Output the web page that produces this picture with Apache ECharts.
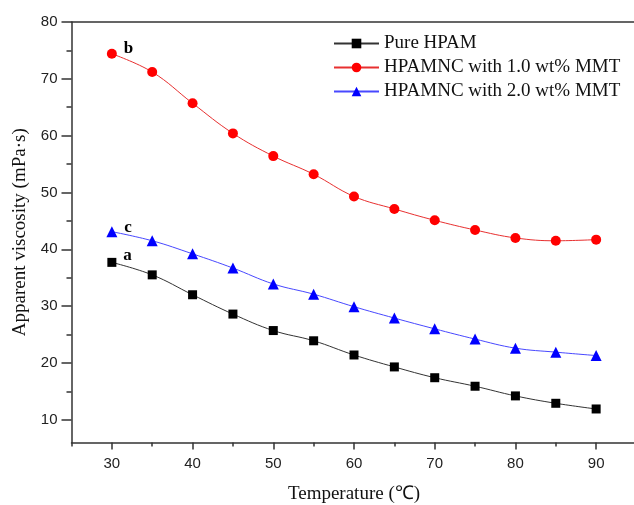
<!DOCTYPE html>
<html>
<head>
<meta charset="utf-8">
<script src="https://cdn.jsdelivr.net/npm/echarts@6/dist/echarts.min.js"></script>
<style>html,body{margin:0;padding:0;background:#fff;}#c{width:634px;height:505px;}</style>
</head>
<body>
<div id="c"></div>
<script>
const temperatures = [30, 35, 40, 45, 50, 55, 60, 65, 70, 75, 80, 85, 90];
const pureHPAM = [37.7, 35.5, 32.0, 28.6, 25.7, 23.9, 21.4, 19.3, 17.4, 15.9, 14.2, 12.9, 11.9];
const mmt10 = [74.4, 71.2, 65.7, 60.4, 56.4, 53.2, 49.3, 47.1, 45.1, 43.4, 42.0, 41.5, 41.7];
const mmt20 = [43.1, 41.5, 39.2, 36.7, 33.9, 32.1, 29.9, 27.9, 26.0, 24.2, 22.6, 21.9, 21.3];
const seriesNames = ['Pure HPAM', 'HPAMNC with 1.0 wt% MMT', 'HPAMNC with 2.0 wt% MMT'];
const curveLabels = ['a', 'b', 'c'];
const xMajor = [30, 40, 50, 60, 70, 80, 90];
const xMinor = [25, 35, 45, 55, 65, 75, 85, 95];
const yMajor = [10, 20, 30, 40, 50, 60, 70, 80];
const yMinor = [15, 25, 35, 45, 55, 65, 75];

const axisColor = '#333';
const serif = '"Liberation Serif","Times New Roman",serif';
const sans = '"Liberation Sans",Arial,sans-serif';

function build(values, label, offset) {
  return values.map((v, i) => {
    const item = { value: [temperatures[i], v] };
    if (i === 0) {
      item.label = {
        show: true, formatter: label, position: 'right', offset: offset,
        fontFamily: serif, fontWeight: 'bold', fontSize: 17, color: '#000'
      };
    }
    return item;
  });
}

const chart = echarts.init(document.getElementById('c'), null, { renderer: 'canvas' });
chart.setOption({
  animation: false,
  backgroundColor: '#fff',
  grid: { left: 71.5, top: 22, width: 565, height: 420.5, containLabel: false, outerBoundsMode: 'none' },
  legend: {
    left: 333, top: 34, orient: 'vertical', padding: 0,
    itemWidth: 45, itemHeight: 12, itemGap: 5,
    textStyle: { fontFamily: serif, fontSize: 19, color: '#111', lineHeight: 19 },
    data: seriesNames
  },
  xAxis: [
    {
      type: 'value', min: 25, max: 95, position: 'bottom',
      name: 'Temperature (℃)', nameLocation: 'middle', nameGap: 42,
      nameTextStyle: { fontFamily: serif, fontSize: 19, color: '#111' },
      axisLine: { show: true, onZero: false, lineStyle: { color: axisColor, width: 1.5 } },
      axisTick: { show: true, inside: false, length: 7, customValues: xMajor, lineStyle: { color: axisColor, width: 1.5 } },
      axisLabel: { customValues: xMajor, margin: 14, fontFamily: sans, fontSize: 15, color: '#222' },
      splitLine: { show: false }
    },
    {
      type: 'value', min: 25, max: 95, position: 'bottom',
      axisLine: { show: false, onZero: false },
      axisTick: { show: true, inside: false, length: 4, customValues: xMinor, lineStyle: { color: axisColor, width: 1.5 } },
      axisLabel: { show: false },
      splitLine: { show: false }
    },
    {
      type: 'value', min: 25, max: 95, position: 'top',
      axisLine: { show: true, onZero: false, lineStyle: { color: axisColor, width: 1.5 } },
      axisTick: { show: false }, axisLabel: { show: false }, splitLine: { show: false }
    }
  ],
  yAxis: [
    {
      type: 'value', min: 6, max: 80, position: 'left',
      name: 'Apparent viscosity (mPa·s)', nameLocation: 'middle', nameGap: 42,
      nameTextStyle: { fontFamily: serif, fontSize: 19, color: '#111' },
      axisLine: { show: true, onZero: false, lineStyle: { color: axisColor, width: 1.5 } },
      axisTick: { show: true, inside: false, length: 10, customValues: yMajor, lineStyle: { color: axisColor, width: 1.5 } },
      axisLabel: { customValues: yMajor, margin: 14, fontFamily: sans, fontSize: 15, color: '#222' },
      splitLine: { show: false }
    },
    {
      type: 'value', min: 6, max: 80, position: 'left',
      axisLine: { show: false, onZero: false },
      axisTick: { show: true, inside: false, length: 5, customValues: yMinor, lineStyle: { color: axisColor, width: 1.5 } },
      axisLabel: { show: false }, splitLine: { show: false }
    }
  ],
  series: [
    {
      name: seriesNames[0], type: 'line', smooth: 0.4, symbol: 'rect', symbolSize: 9,
      itemStyle: { color: '#000' }, lineStyle: { color: '#333', width: 1 },
      data: build(pureHPAM, curveLabels[0], [2, -7]), z: 3
    },
    {
      name: seriesNames[1], type: 'line', smooth: 0.4, symbol: 'circle', symbolSize: 10,
      itemStyle: { color: '#ff0000' }, lineStyle: { color: '#e83030', width: 1 },
      data: build(mmt10, curveLabels[1], [2, -5]), z: 3
    },
    {
      name: seriesNames[2], type: 'line', smooth: 0.4, symbol: 'triangle', symbolSize: 11,
      itemStyle: { color: '#0000ff' }, lineStyle: { color: '#4848ff', width: 1 },
      data: build(mmt20, curveLabels[2], [2, -4]), z: 3
    }
  ]
});
</script>
</body>
</html>
